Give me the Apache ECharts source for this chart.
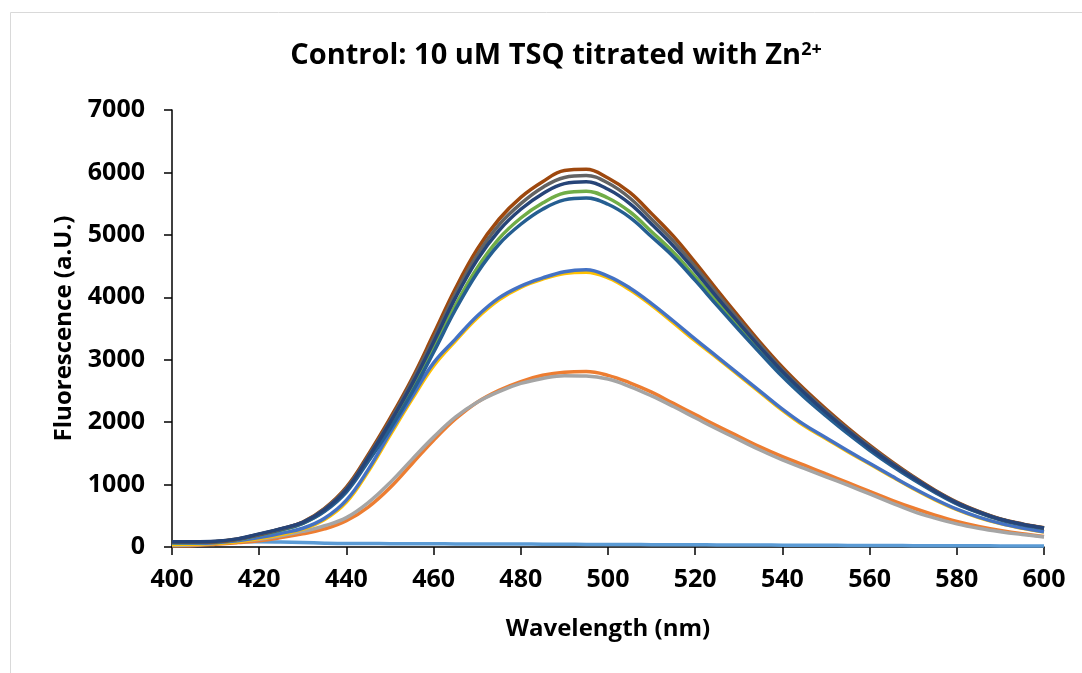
<!DOCTYPE html>
<html>
<head>
<meta charset="utf-8">
<script src="https://cdn.jsdelivr.net/npm/echarts@6/dist/echarts.min.js"></script>
<style>
  html, body { margin: 0; padding: 0; background: #fff; }
  #main { width: 1082px; height: 673px; }
</style>
</head>
<body>
<div id="main"></div>
<script>
var wavelengths = [400, 405, 410, 415, 420, 425, 430, 435, 440, 445, 450, 455, 460, 465, 470, 475, 480, 485, 490, 495,
    500, 505, 510, 515, 520, 525, 530, 535, 540, 545, 550, 555, 560, 565, 570, 575, 580, 585, 590, 595, 600];

// readings from the spectra, every 5 nm
var s1 = [80, 82, 82, 84, 85, 80, 72, 62, 56, 55, 54, 52, 52, 50, 50, 48, 47, 46, 44, 42,
    40, 40, 38, 36, 35, 34, 32, 31, 30, 28, 27, 26, 25, 24, 22, 21, 20, 19, 18, 17, 16];
var s2 = [20, 25, 45, 70, 100, 150, 210, 290, 420, 640, 950, 1330, 1710, 2050, 2320, 2510, 2650, 2750, 2800, 2810,
    2750, 2630, 2480, 2300, 2120, 1940, 1770, 1600, 1447, 1310, 1170, 1030, 890, 752, 625, 510, 410, 330, 265, 212, 170];
var s3 = [25, 35, 60, 90, 125, 180, 250, 340, 470, 710, 1030, 1400, 1760, 2080, 2320, 2490, 2620, 2700, 2745, 2740,
    2690, 2570, 2420, 2250, 2070, 1890, 1720, 1550, 1395, 1260, 1125, 990, 850, 708, 570, 462, 370, 300, 245, 200, 160];
var s4 = [40, 45, 55, 85, 135, 200, 285, 440, 720, 1210, 1790, 2360, 2900, 3300, 3670, 3960, 4160, 4290, 4380, 4400,
    4310, 4120, 3870, 3590, 3300, 3030, 2750, 2470, 2190, 1940, 1735, 1525, 1330, 1130, 935, 755, 598, 472, 374, 300, 240];
var s5 = [60, 60, 68, 98, 150, 220, 300, 460, 750, 1240, 1830, 2400, 2950, 3330, 3700, 3990, 4180, 4310, 4410, 4440,
    4340, 4150, 3900, 3620, 3330, 3050, 2770, 2490, 2210, 1960, 1750, 1540, 1340, 1140, 945, 765, 605, 478, 378, 303, 245];
var s6 = [70, 72, 80, 118, 190, 270, 380, 580, 900, 1400, 1930, 2520, 3180, 3870, 4470, 4940, 5270, 5510, 5670, 5700,
    5590, 5370, 5050, 4720, 4330, 3930, 3530, 3140, 2770, 2440, 2130, 1840, 1570, 1320, 1095, 885, 700, 556, 440, 360, 300];
var s7 = [80, 80, 86, 122, 195, 275, 380, 570, 880, 1370, 1890, 2470, 3120, 3800, 4390, 4850, 5170, 5410, 5560, 5590,
    5490, 5280, 4970, 4650, 4270, 3870, 3480, 3100, 2730, 2400, 2100, 1815, 1550, 1305, 1080, 875, 690, 550, 435, 355, 295];
var s8 = [75, 78, 85, 125, 200, 290, 400, 620, 960, 1480, 2060, 2690, 3410, 4140, 4770, 5250, 5600, 5850, 6030, 6050,
    5910, 5680, 5340, 4980, 4560, 4120, 3690, 3270, 2880, 2530, 2210, 1910, 1630, 1370, 1130, 910, 720, 570, 450, 370, 310];
var s9 = [80, 80, 88, 128, 205, 290, 395, 610, 940, 1450, 2020, 2650, 3340, 4060, 4680, 5160, 5500, 5760, 5920, 5950,
    5830, 5590, 5250, 4900, 4490, 4060, 3640, 3230, 2840, 2500, 2180, 1885, 1610, 1355, 1120, 900, 712, 565, 446, 366, 306];
var s10 = [85, 85, 92, 130, 210, 295, 395, 600, 920, 1430, 1990, 2600, 3280, 3990, 4600, 5070, 5410, 5660, 5820, 5850,
    5730, 5500, 5170, 4820, 4420, 4000, 3590, 3190, 2810, 2470, 2155, 1865, 1590, 1340, 1110, 895, 708, 562, 444, 364, 304];

var seriesData = [s1, s2, s3, s4, s5, s6, s7, s8, s9, s10];
var colors = ["#5B9BD5", "#ED7D31", "#A5A5A5", "#FFC000", "#4472C4", "#70AD47", "#255E91", "#9E480E", "#636363", "#264478"];

var font = "'Open Sans', sans-serif";

function pairs(values) {
    return values.map(function (v, i) {
        return [wavelengths[i], v];
    });
}

var chart = echarts.init(document.getElementById("main"), null, { renderer: "canvas" });

var option = {
    animation: false,
    color: colors,
    textStyle: { fontFamily: font },
    grid: {
        left: 172,
        right: 38,
        top: 110,
        bottom: 126
    },
    graphic: [
        {
            type: "rect",
            shape: { x: 10.5, y: 12.5, width: 1100, height: 700 },
            style: { fill: null, stroke: "#d9d9d9", lineWidth: 1 },
            silent: true
        },
        {
            type: "text",
            x: 556,
            y: 56,
            style: {
                text: "Control: 10 uM TSQ titrated with Zn{sup|2+}",
                align: "center",
                verticalAlign: "middle",
                fontFamily: font,
                fontSize: 29,
                fontWeight: "bold",
                fill: "#000",
                rich: {
                    sup: {
                        fontFamily: font,
                        fontSize: 18,
                        fontWeight: "bold",
                        fill: "#000",
                        verticalAlign: "top",
                        padding: [0, 0, 12, 0]
                    }
                }
            }
        }
    ],
    xAxis: {
        type: "value",
        min: 400,
        max: 600,
        interval: 20,
        name: "Wavelength (nm)",
        nameLocation: "middle",
        nameGap: 70,
        nameTextStyle: { fontSize: 24, fontWeight: "bold", color: "#000", fontFamily: font },
        axisLine: { lineStyle: { color: "#000", width: 1.5 } },
        axisTick: { show: true, length: 8, lineStyle: { color: "#000", width: 1.5 } },
        axisLabel: { margin: 20, fontSize: 25, fontWeight: "bold", color: "#000", fontFamily: font },
        splitLine: { show: false }
    },
    yAxis: {
        type: "value",
        min: 0,
        max: 7000,
        interval: 1000,
        name: "Fluorescence (a.U.)",
        nameLocation: "middle",
        nameGap: 96,
        nameTextStyle: { fontSize: 24, fontWeight: "bold", color: "#000", fontFamily: font },
        axisLine: { show: true, lineStyle: { color: "#000", width: 1.5 } },
        axisTick: { show: true, length: 8, lineStyle: { color: "#000", width: 1.5 } },
        axisLabel: {
            margin: 27,
            fontSize: 25,
            fontWeight: "bold",
            color: "#000",
            fontFamily: font,
            formatter: function (v) { return String(v); }
        },
        splitLine: { show: false }
    },
    series: seriesData.map(function (values, i) {
        return {
            name: "Series" + (i + 1),
            type: "line",
            data: pairs(values),
            showSymbol: false,
            smooth: 0.4,
            lineStyle: { width: 3.5, color: colors[i] },
            z: 2 + i
        };
    })
};

chart.setOption(option);
</script>
</body>
</html>
